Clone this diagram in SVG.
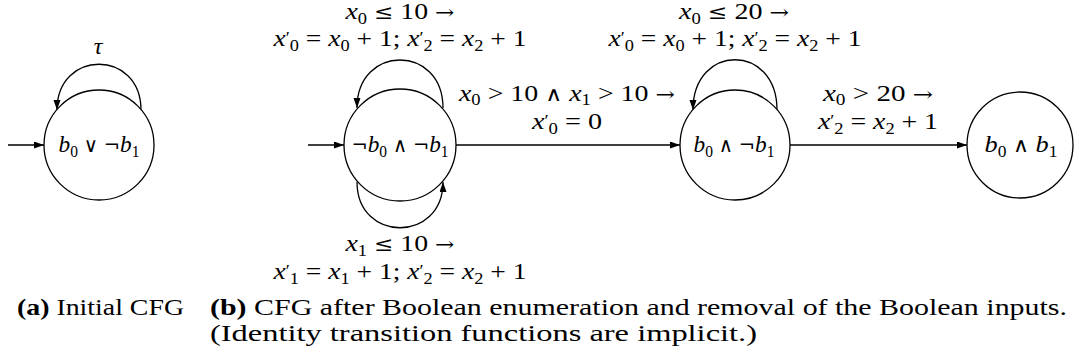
<svg xmlns="http://www.w3.org/2000/svg" width="1075" height="362" viewBox="0 0 1075 362">
<style>
text{fill:#000}
.m{font-family:"Liberation Serif","DejaVu Serif",serif;font-size:24px}
.c{font-family:"Liberation Serif","DejaVu Serif",serif;font-size:23px}
.o{font-family:"DejaVu Serif",serif;font-size:20px}
.i{font-style:italic}
.s{font-size:16px}
.b{font-weight:bold}
.node{fill:#fff;stroke:#000;stroke-width:1.3}
.e{fill:none;stroke:#000;stroke-width:1.3;marker-end:url(#ah)}
</style>
<defs>
<marker id="ah" markerUnits="userSpaceOnUse" markerWidth="11" markerHeight="8" refX="10" refY="3.5" orient="auto">
<path d="M0,0 L10,3.5 L0,7 z" fill="#000"/>
</marker>
</defs>
<g id="connectors">
<path class="e" d="M8,145 L44,145"/>
<path class="e" d="M141,110 C141,49 57,49 57,110"/>
<path class="e" d="M308,145 L344,145"/>
<path class="e" d="M443,108 C443,44 357,44 357,108"/>
<path class="e" d="M357,182 C357,243 443,243 443,182"/>
<path class="e" d="M456,145 L680,145"/>
<path class="e" d="M777,110 C777,43 693,43 693,110"/>
<path class="e" d="M790,145 L967,145"/>
</g>
<g id="n1">
<circle class="node" cx="99" cy="145" r="55"/>
<text class="m" x="99" y="152" text-anchor="middle" textLength="81" lengthAdjust="spacingAndGlyphs"><tspan class="i">b</tspan><tspan class="s" dy="5">0</tspan><tspan dy="-5"> </tspan><tspan class="o">∨</tspan> <tspan class="o">¬</tspan><tspan class="i">b</tspan><tspan class="s" dy="5">1</tspan></text>
</g>
<g id="n2">
<circle class="node" cx="400" cy="145" r="56"/>
<text class="m" x="400" y="152" text-anchor="middle" textLength="97" lengthAdjust="spacingAndGlyphs"><tspan class="o">¬</tspan><tspan class="i">b</tspan><tspan class="s" dy="5">0</tspan><tspan dy="-5"> </tspan><tspan class="o">∧</tspan> <tspan class="o">¬</tspan><tspan class="i">b</tspan><tspan class="s" dy="5">1</tspan></text>
</g>
<g id="n3">
<circle class="node" cx="735" cy="145" r="55"/>
<text class="m" x="734" y="152" text-anchor="middle" textLength="81" lengthAdjust="spacingAndGlyphs"><tspan class="i">b</tspan><tspan class="s" dy="5">0</tspan><tspan dy="-5"> </tspan><tspan class="o">∧</tspan> <tspan class="o">¬</tspan><tspan class="i">b</tspan><tspan class="s" dy="5">1</tspan></text>
</g>
<g id="n4">
<circle class="node" cx="1020" cy="145" r="53"/>
<text class="m" x="1021" y="152" text-anchor="middle" textLength="73" lengthAdjust="spacingAndGlyphs"><tspan class="i">b</tspan><tspan class="s" dy="5">0</tspan><tspan dy="-5"> </tspan><tspan class="o">∧</tspan> <tspan class="i">b</tspan><tspan class="s" dy="5">1</tspan></text>
</g>
<g id="labels">
<text class="m i" x="98" y="54" text-anchor="middle">τ</text>
<text class="m" x="400" y="19" text-anchor="middle" textLength="109" lengthAdjust="spacingAndGlyphs"><tspan class="i">x</tspan><tspan class="s" dy="5">0</tspan><tspan dy="-5"> </tspan><tspan class="o">≤</tspan> 10 <tspan class="o">→</tspan></text>
<text class="m" x="400" y="46" text-anchor="middle" textLength="253" lengthAdjust="spacingAndGlyphs"><tspan class="i">x</tspan><tspan class="s" dy="-3">′</tspan><tspan class="s" dy="8">0</tspan><tspan dy="-5"> = </tspan><tspan class="i">x</tspan><tspan class="s" dy="5">0</tspan><tspan dy="-5"> + 1; </tspan><tspan class="i">x</tspan><tspan class="s" dy="-3">′</tspan><tspan class="s" dy="8">2</tspan><tspan dy="-5"> = </tspan><tspan class="i">x</tspan><tspan class="s" dy="5">2</tspan><tspan dy="-5"> + 1</tspan></text>
<text class="m" x="734" y="19" text-anchor="middle" textLength="110" lengthAdjust="spacingAndGlyphs"><tspan class="i">x</tspan><tspan class="s" dy="5">0</tspan><tspan dy="-5"> </tspan><tspan class="o">≤</tspan> 20 <tspan class="o">→</tspan></text>
<text class="m" x="735" y="46" text-anchor="middle" textLength="253" lengthAdjust="spacingAndGlyphs"><tspan class="i">x</tspan><tspan class="s" dy="-3">′</tspan><tspan class="s" dy="8">0</tspan><tspan dy="-5"> = </tspan><tspan class="i">x</tspan><tspan class="s" dy="5">0</tspan><tspan dy="-5"> + 1; </tspan><tspan class="i">x</tspan><tspan class="s" dy="-3">′</tspan><tspan class="s" dy="8">2</tspan><tspan dy="-5"> = </tspan><tspan class="i">x</tspan><tspan class="s" dy="5">2</tspan><tspan dy="-5"> + 1</tspan></text>
<text class="m" x="567" y="101" text-anchor="middle" textLength="216" lengthAdjust="spacingAndGlyphs"><tspan class="i">x</tspan><tspan class="s" dy="4">0</tspan><tspan dy="-4"> &gt; 10 </tspan><tspan class="o">∧</tspan> <tspan class="i">x</tspan><tspan class="s" dy="4">1</tspan><tspan dy="-4"> &gt; 10 </tspan><tspan class="o">→</tspan></text>
<text class="m" x="567" y="129" text-anchor="middle" textLength="70" lengthAdjust="spacingAndGlyphs"><tspan class="i">x</tspan><tspan class="s" dy="-3">′</tspan><tspan class="s" dy="8">0</tspan><tspan dy="-5"> = 0</tspan></text>
<text class="m" x="878" y="101" text-anchor="middle" textLength="110" lengthAdjust="spacingAndGlyphs"><tspan class="i">x</tspan><tspan class="s" dy="4">0</tspan><tspan dy="-4"> &gt; 20 </tspan><tspan class="o">→</tspan></text>
<text class="m" x="878" y="129" text-anchor="middle" textLength="120" lengthAdjust="spacingAndGlyphs"><tspan class="i">x</tspan><tspan class="s" dy="-3">′</tspan><tspan class="s" dy="8">2</tspan><tspan dy="-5"> = </tspan><tspan class="i">x</tspan><tspan class="s" dy="5">2</tspan><tspan dy="-5"> + 1</tspan></text>
<text class="m" x="400" y="251" text-anchor="middle" textLength="109" lengthAdjust="spacingAndGlyphs"><tspan class="i">x</tspan><tspan class="s" dy="5">1</tspan><tspan dy="-5"> </tspan><tspan class="o">≤</tspan> 10 <tspan class="o">→</tspan></text>
<text class="m" x="400" y="279" text-anchor="middle" textLength="253" lengthAdjust="spacingAndGlyphs"><tspan class="i">x</tspan><tspan class="s" dy="-3">′</tspan><tspan class="s" dy="8">1</tspan><tspan dy="-5"> = </tspan><tspan class="i">x</tspan><tspan class="s" dy="5">1</tspan><tspan dy="-5"> + 1; </tspan><tspan class="i">x</tspan><tspan class="s" dy="-3">′</tspan><tspan class="s" dy="8">2</tspan><tspan dy="-5"> = </tspan><tspan class="i">x</tspan><tspan class="s" dy="5">2</tspan><tspan dy="-5"> + 1</tspan></text>
</g>
<g id="captions">
<text class="c" x="17" y="315" textLength="167" lengthAdjust="spacingAndGlyphs"><tspan class="b">(a)</tspan> Initial CFG</text>
<text class="c" x="210" y="315" textLength="857" lengthAdjust="spacingAndGlyphs"><tspan class="b">(b)</tspan> CFG after Boolean enumeration and removal of the Boolean inputs.</text>
<text class="c" x="210" y="341" textLength="547" lengthAdjust="spacingAndGlyphs">(Identity transition functions are implicit.)</text>
</g>
</svg>
